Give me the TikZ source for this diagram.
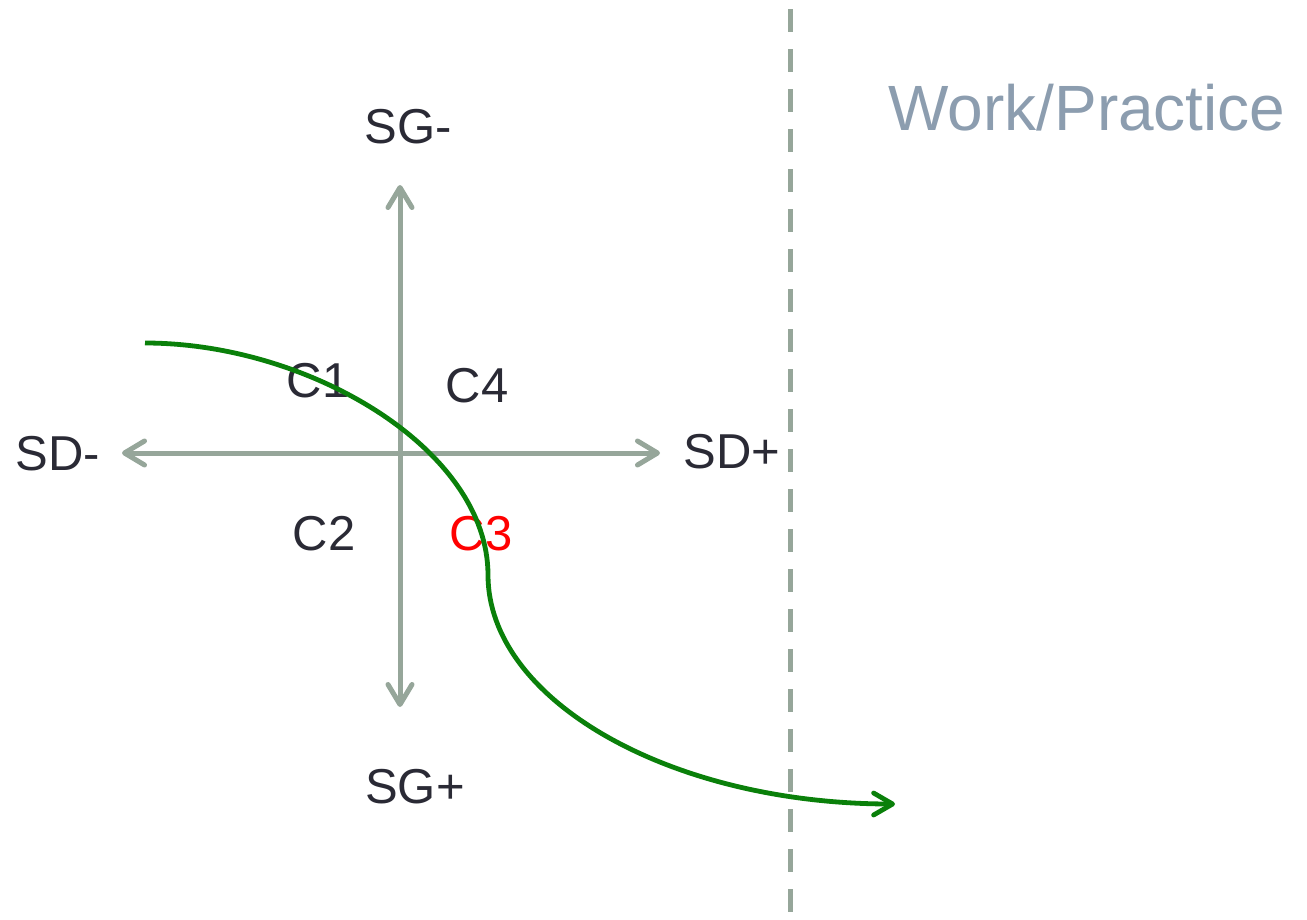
\documentclass[tikz,border=0pt]{standalone}
\usepackage{fontspec}
\setmainfont{Liberation Sans}
\usetikzlibrary{arrows.meta}
\definecolor{axisgray}{HTML}{96A69A}
\definecolor{textdark}{HTML}{2A2A35}
\definecolor{workgray}{HTML}{8C9DAF}
\definecolor{curvegreen}{HTML}{0A800A}
\tikzset{
  axisline/.style={draw=axisgray, line width=5pt, -{Straight Barb[length=20pt,width=24pt,round]}},
  divider/.style={draw=axisgray, line width=5pt, dash pattern=on 23pt off 17pt},
  pathcurve/.style={draw=curvegreen, line width=4.8pt, -{Straight Barb[length=19pt,width=22pt,round]}},
  lbl/.style={anchor=base, inner sep=0pt, text=textdark, font=\fontsize{49}{58}\selectfont},
}
\begin{document}
\begin{tikzpicture}[x=1pt,y=-1pt]
\useasboundingbox (0,0) rectangle (1307,919);
% axes
\coordinate (o) at (400,453);
\coordinate (left) at (122,453);
\coordinate (right) at (660,453);
\coordinate (top) at (400,185);
\coordinate (bottom) at (400,707);
\draw[axisline] (o) -- (left);
\draw[axisline] (o) -- (right);
\draw[axisline] (o) -- (top);
\draw[axisline] (o) -- (bottom);
% divider
\coordinate (dtop) at (790,9);
\coordinate (dbot) at (790,919);
\draw[divider] (dtop) -- (dbot);
% labels
\node[lbl] (sgm) at (408,143) {SG-};
\node[lbl] (sgp) at (415,803) {SG+};
\node[lbl] (sdm) at (58,470) {SD-};
\node[lbl] (sdp) at (732,468) {SD+};
\node[lbl] (c1) at (318,397) {C1};
\node[lbl] (c4) at (477,402) {C4};
\node[lbl] (c2) at (324,550) {C2};
\node[lbl, text=red] (c3) at (481,550) {C3};
\node[anchor=base, inner sep=0pt, text=workgray, font=\fontsize{64}{76}\selectfont] (work) at (1087,130) {Work/Practice};
% curve
\coordinate (cstart) at (145,343);
\coordinate (cmid) at (488,575);
\coordinate (cend) at (895,804);
\draw[pathcurve] (cstart) .. controls (310,343) and (488,450) .. (cmid)
  .. controls (488,700) and (670,804) .. (cend);
\end{tikzpicture}
\end{document}
